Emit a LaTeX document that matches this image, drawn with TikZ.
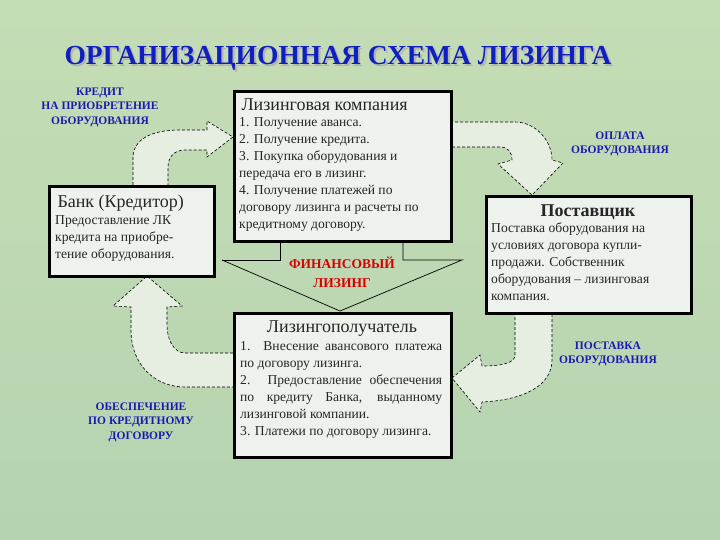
\documentclass[tikz,border=0pt]{standalone}
\usepackage{fontspec}
\setmainfont{Liberation Serif}
\begin{document}
\begin{tikzpicture}[x=1pt,y=-1pt,
  box/.style={draw=black,line width=2.6pt,fill=boxfill},
  arr/.style={draw=black,dashed,line width=0.6pt,fill=arrfill,dash pattern=on 3pt off 2pt},
  lbl/.style={font=\bfseries\fontsize{11.5}{14.5}\selectfont,text=lblblue,align=center},
  hd/.style={font=\fontsize{18}{20}\selectfont,text=black!85},
  body/.style={font=\fontsize{13.6}{17}\selectfont,align=left,anchor=north west,inner sep=0pt,text=black!85}]
\definecolor{bg1}{HTML}{C5DDB5}
\definecolor{bg2}{HTML}{B5D3B0}
\definecolor{boxfill}{HTML}{EEF2EC}
\definecolor{arrfill}{HTML}{E6EEE2}
\definecolor{lblblue}{HTML}{1A1AB0}
\definecolor{ttl}{HTML}{1020C0}
\shade[top color=bg1,bottom color=bg2] (0,0) rectangle (720,540);
\useasboundingbox (0,0) rectangle (720,540);
% title with shadow
\node[font=\bfseries\fontsize{27.5}{30}\selectfont,text=black!30] at (340,60) {ОРГАНИЗАЦИОННАЯ СХЕМА ЛИЗИНГА};
\node (title) [font=\bfseries\fontsize{27.5}{30}\selectfont,text=ttl] at (338,58) {ОРГАНИЗАЦИОННАЯ СХЕМА ЛИЗИНГА};
% arrows
\draw[arr] (133,185) -- (133,158) .. controls (133,140) and (150,130) .. (180,130) -- (207,130) -- (207,121) -- (233,137) -- (207,157) -- (207,150) -- (185,150) .. controls (174,150) and (168,157) .. (168,168) -- (168,185);
\draw[arr] (450,122) -- (515,122) .. controls (535,122) and (552,140) .. (552,160) -- (563,163) -- (532,195) -- (498,164) -- (512,160) .. controls (512,152) and (508,147) .. (500,147) -- (450,147);
\draw[arr] (515,312) -- (515,355) .. controls (515,362) and (505,366) .. (482,366) -- (480,355) -- (452,378) -- (480,412) -- (482,402) .. controls (525,400) and (552,385) .. (552,360) -- (552,312);
\draw[arr] (233,353) -- (185,353) .. controls (174,353) and (167,340) .. (167,325) -- (167,307) -- (182,306) -- (147,276) -- (113,306) -- (131,307) -- (131,330) .. controls (131,365) and (155,387) .. (185,387) -- (233,387);
% callout
\draw[line width=0.7pt] (222,260) -- (280,260) -- (280,240);
\draw[line width=0.7pt] (403,240) -- (403,260) -- (462,260) -- (340,311) -- (222,260);
\node[font=\bfseries\fontsize{13.5}{19}\selectfont,text=red!85!black,align=center] (fin) at (342,272) {ФИНАНСОВЫЙ\\ЛИЗИНГ};
% boxes
\node[box,minimum width=165pt,minimum height=90pt,anchor=north west] (bank) at (48,185) {};
\node[hd,anchor=west] at (54,203) {Банк (Кредитор)};
\node[body] at (55,215) {Предоставление ЛК\\кредита на приобре-\\тение оборудования.};
\node[box,minimum width=217pt,minimum height=150pt,anchor=north west] (lc) at (233,90) {};
\node[hd,anchor=west] at (238,105) {Лизинговая компания};
\node[body] at (239,117) {1. Получение аванса.\\2. Получение кредита.\\3. Покупка оборудования и\\передача его в лизинг.\\4. Получение платежей по\\договору лизинга и расчеты по\\кредитному договору.};
\node[box,minimum width=205pt,minimum height=117pt,anchor=north west] (sup) at (485,195) {};
\node[hd,font=\bfseries\fontsize{18}{20}\selectfont] at (588,212) {Поставщик};
\node[body] at (491,223) {Поставка оборудования на\\условиях договора купли-\\продажи. Собственник\\оборудования – лизинговая\\компания.};
\node[box,minimum width=217pt,minimum height=144pt,anchor=north west] (les) at (233,312) {};
\node[hd] at (342,329) {Лизингополучатель};
\node[body,text width=202pt,align=justify] at (240,341) {1. Внесение авансового платежа по договору лизинга.\\2. Предоставление обеспечения по кредиту Банка, выданному лизинговой компании.\\3. Платежи по договору лизинга.};
% labels
\node[lbl] at (100,107) {КРЕДИТ\\НА ПРИОБРЕТЕНИЕ\\ОБОРУДОВАНИЯ};
\node[lbl] at (620,144) {ОПЛАТА\\ОБОРУДОВАНИЯ};
\node[lbl] at (608,354) {ПОСТАВКА\\ОБОРУДОВАНИЯ};
\node[lbl] at (141,422) {ОБЕСПЕЧЕНИЕ\\ПО КРЕДИТНОМУ\\ДОГОВОРУ};
\end{tikzpicture}
\end{document}
